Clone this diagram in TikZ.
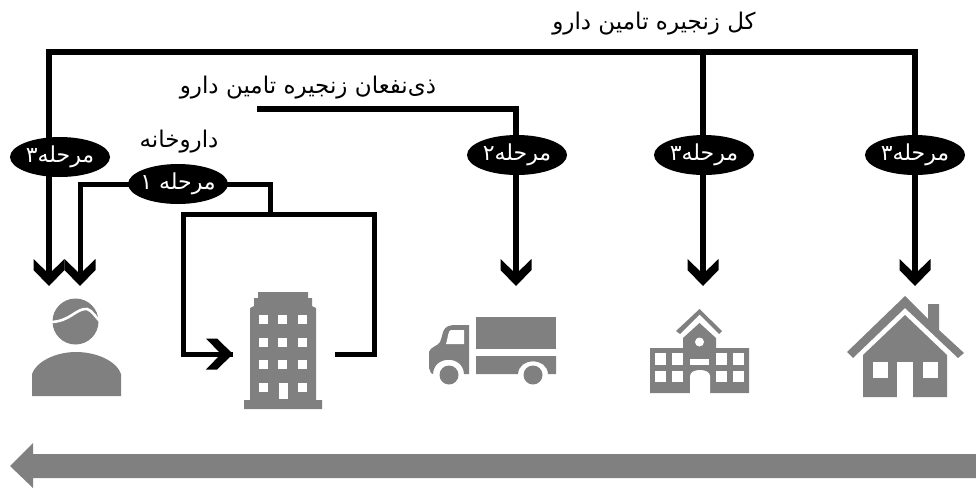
\documentclass[tikz,border=0pt]{standalone}
\usepackage{fontspec}
\newfontfamily\arabicfont[Script=Arabic]{DejaVu Sans}
\TeXXeTstate=1
\usetikzlibrary{shapes.geometric,arrows.meta,backgrounds}
\definecolor{icongray}{HTML}{808080}
\pgfdeclarearrow{
  name=Chev,
  setup code={\pgfarrowssettipend{0pt}\pgfarrowssetlineend{-6pt}\pgfarrowssetbackend{-27pt}\pgfarrowssetvisualbackend{-6pt}},
  drawing code={
    \pgfpathmoveto{\pgfpoint{0pt}{0pt}}
    \pgfpathlineto{\pgfpoint{-16pt}{15.5pt}}
    \pgfpathlineto{\pgfpoint{-27pt}{15.5pt}}
    \pgfpathlineto{\pgfpoint{-12pt}{0pt}}
    \pgfpathlineto{\pgfpoint{-27pt}{-15.5pt}}
    \pgfpathlineto{\pgfpoint{-16pt}{-15.5pt}}
    \pgfpathclose
    \pgfusepathqfill
  }
}
\tikzset{
  stage/.style={ellipse,fill=black,text=white,minimum width=100pt,minimum height=40pt,inner sep=0pt,font=\arabicfont\fontsize{22}{24}\selectfont},
  lbl/.style={text=black,inner sep=0pt,font=\arabicfont\fontsize{23}{26}\selectfont},
  wire/.style={line width=5pt,draw=black,line cap=butt,line join=miter},
  arrowwire/.style={wire,line width=6pt,-{Chev}},
  icon/.style={fill=icongray,draw=none},
  hole/.style={fill=white,draw=none}
}
\begin{document}
\begin{tikzpicture}[x=1pt,y=-1pt]
\useasboundingbox (0,0) rectangle (976,488);
% labels
\node[lbl] (all) at (654,24) {\beginR کل زنجیره تامین دارو\endR};
\node[lbl] (stake) at (308,88) {\beginR ذی‌نفعان زنجیره تامین دارو\endR};
\node[lbl] (pharm) at (179,142) {\beginR داروخانه\endR};
% stages
\node[stage] (sa) at (60,157) {\beginR مرحله۳\endR};
\node[stage] (sb) at (178,184) {\makebox[60pt][c]{\beginR مرحله ۱\endR}};
\node[stage] (sc) at (517,155) {\beginR مرحله۲\endR};
\node[stage] (sd) at (704,155) {\beginR مرحله۳\endR};
\node[stage] (se) at (915,155) {\beginR مرحله۳\endR};
% connector points
\coordinate (tipa) at (49,286);
\coordinate (tipb) at (80,286);
\coordinate (tipc) at (516,286);
\coordinate (tipd) at (703,286);
\coordinate (tipe) at (915,286);
\coordinate (topl) at (49,52);
\coordinate (topr) at (915,52);
\coordinate (topm) at (703,52);
\coordinate (stakel) at (257,109);
\coordinate (staker) at (516,109);
\coordinate (bend) at (270,214);
\coordinate (boxtl) at (183,214);
\coordinate (boxtr) at (374,214);
\coordinate (boxbl) at (183,354);
\coordinate (boxbr) at (374,354);
\coordinate (inhead) at (233,354);
\coordinate (outend) at (335,354);
\begin{scope}[on background layer]
\draw[wire,line width=6.5pt] (topl) ++(-3,0) -- ([xshift=3pt]topr);
\draw[arrowwire] (topl) -- (tipa);
\draw[arrowwire] (topr) -- (tipe);
\draw[arrowwire] (topm) -- (tipd);
\draw[wire,line width=6pt] (stakel) -- ([xshift=3pt]staker);
\draw[arrowwire] (staker) -- (tipc);
\draw[wire,-{Chev}] (sb.center) -| (tipb);
\draw[wire] (sb.center) -| (bend);
\draw[wire] (outend) -- (boxbr) -- (boxtr) -- (boxtl) -- (boxbl) -- (inhead);
\draw[wire,-{Chev}] (200,354) -- (inhead);
\end{scope}
% person
\fill[icon] (75.5,321.5) circle (23);
\fill[icon] (32,396) -- (32,374) .. controls (36,362) and (55,352) .. (76,352) .. controls (98,352) and (117,362) .. (121,374) -- (121,396) -- cycle;
\draw[white,line width=2.6pt] (50,322) .. controls (70,322) and (76,308) .. (87,309) .. controls (92,310) and (96,318) .. (101,322);
% building
\fill[icon] (258,292) -- (308,292) -- (308,298) -- (312,298) -- (312,306) -- (316,308) -- (316,400) -- (322,400) -- (322,409) -- (244,409) -- (244,400) -- (250,400) -- (250,308) -- (254,306) -- (254,298) -- (258,298) -- cycle;
\foreach \yy in {315,337.5,360} \foreach \xx in {259,278,298} \fill[hole] (\xx,\yy) rectangle +(9,9);
\fill[hole] (259,382.5) rectangle +(9,9);
\fill[hole] (298,382.5) rectangle +(9,9);
\fill[hole] (279,382.5) rectangle (288,399);
% truck
\fill[icon] (476,317) rectangle (556,349);
\fill[icon] (476,356) -- (556,356) -- (556,374) -- (548,374) .. controls (547,357) and (519,357) .. (518,374) -- (476,374) -- cycle;
\fill[icon] (469,325) -- (469,374) -- (464,374) .. controls (463,355) and (434,355) .. (433,374) -- (431,373) -- (429,368) -- (429,352) .. controls (430,347) and (438,346) .. (440,342) .. controls (444,333) and (441,325) .. (456,325) -- cycle;
\fill[hole] (451,330) -- (464,330) -- (464,344) -- (446,344) .. controls (448,338) and (448,330) .. (451,330) -- cycle;
\fill[icon] (449,375) circle (9.5);
\fill[icon] (533,375) circle (9.5);
% school
\fill[icon] (650,348) -- (683,348) -- (683,338) -- (699.5,323) -- (716,338) -- (716,348) -- (749,348) -- (749,393) -- (650,393) -- cycle;
\fill[icon] (699.5,309) -- (722,331) -- (719,334) -- (699.5,314.5) -- (680,334) -- (676,331) -- cycle;
\foreach \xx/\ww in {655/11,672/11,716/11,733/11} {\fill[hole] (\xx,353) rectangle +(\ww,12); \fill[hole] (\xx,371) rectangle +(\ww,11);}
\fill[hole] (690,359) rectangle (709,365);
\fill[hole] (690,394) -- (690,376) .. controls (690,368) and (710,368) .. (710,376) -- (710,394) -- cycle;
\fill[hole] (699.5,342) circle (4.5);
% house
\fill[icon] (905,296) -- (928,319) -- (928,304) -- (939,304) -- (939,330) -- (964,353) -- (958,358) -- (905,308) -- (853,358) -- (847,352) -- cycle;
\fill[icon] (905,315) -- (947,355) -- (947,397) -- (863,397) -- (863,355) -- cycle;
\fill[hole] (873,362) rectangle (888,378);
\fill[hole] (923,362) rectangle (938,378);
\fill[hole] (897,362) rectangle (913,398);
% direction arrow
\fill[icon] (976,454) -- (33,454) -- (33,443) -- (10,466) -- (33,488) -- (33,478) -- (976,478) -- cycle;
\end{tikzpicture}
\end{document}
